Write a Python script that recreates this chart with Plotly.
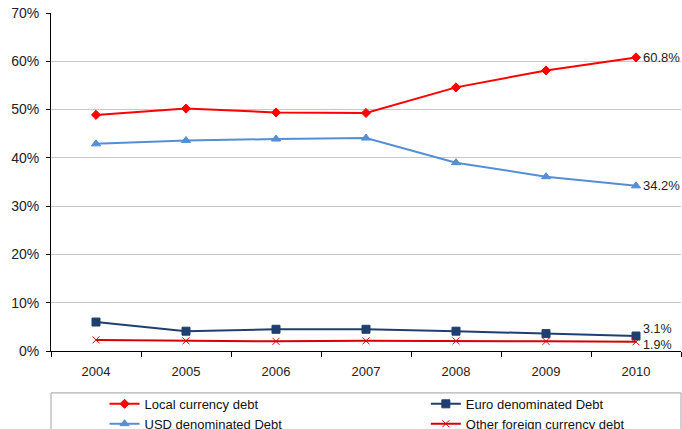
import plotly.graph_objects as go

years = ["2004", "2005", "2006", "2007", "2008", "2009", "2010"]
local_debt = [48.9, 50.2, 49.4, 49.3, 54.6, 58.1, 60.8]
usd_debt = [42.9, 43.6, 43.9, 44.1, 39.0, 36.1, 34.2]
euro_debt = [6.0, 4.1, 4.5, 4.5, 4.1, 3.6, 3.1]
other_debt = [2.3, 2.1, 2.0, 2.1, 2.1, 2.0, 1.9]
y_ticks = [0, 10, 20, 30, 40, 50, 60, 70]

FONT = "Liberation Sans, Arial, sans-serif"

fig = go.Figure()

series = [
    ("Local currency debt", local_debt, "#FF0000", "diamond", 7, "legend"),
    ("USD denominated Debt", usd_debt, "#558ED5", "triangle-up", 8, "legend"),
    ("Euro denominated Debt", euro_debt, "#1F3F6E", "square", 8, "legend2"),
    ("Other foreign currency debt", other_debt, "#D40000", "x-thin", 7, "legend2"),
]

for name, vals, color, symbol, size, leg in series:
    fig.add_trace(go.Scatter(
        x=years, y=vals, name=name, mode="lines+markers",
        line=dict(color=color, width=2),
        marker=dict(symbol=symbol, size=size, color=color,
                    line=dict(color=color, width=1)),
        legend=leg,
    ))

# End-of-series value labels (positioned at the last category index)
last = len(years) - 1
end_labels = [(local_debt, 0, 13), (usd_debt, 0, 13), (euro_debt, 7, 12.5), (other_debt, -3, 12.5)]
for vals, ys, fs in end_labels:
    fig.add_annotation(
        x=last, y=vals[-1], text=f"{vals[-1]:.1f}%",
        xref="x", yref="y", showarrow=False,
        xanchor="left", yanchor="middle", xshift=6, yshift=ys,
        font=dict(family=FONT, size=fs, color="#222222"),
        borderpad=0,
    )

# Legend frame
fig.add_shape(type="rect", xref="paper", yref="paper",
              x0=0, x1=1, y0=-0.124, y1=-0.5,
              line=dict(color="#A0A0A0", width=1), fillcolor="rgba(0,0,0,0)")

legend_common = dict(
    orientation="v", yanchor="top", y=-0.112, xanchor="left",
    font=dict(family=FONT, size=13, color="#111111"),
    bgcolor="rgba(0,0,0,0)", itemwidth=30, tracegroupgap=0,
    traceorder="normal",
)

fig.update_layout(
    width=682, height=429,
    margin=dict(l=51, r=1, t=13, b=78, autoexpand=False),
    paper_bgcolor="white", plot_bgcolor="white",
    font=dict(family=FONT, size=13, color="#222222"),
    showlegend=True,
    legend=dict(x=0.085, **legend_common),
    legend2=dict(x=0.595, **legend_common),
    xaxis=dict(
        type="category", range=[-0.5, 6.5],
        showline=True, linecolor="black", linewidth=1,
        ticks="outside", ticklen=5, tickcolor="black",
        tickson="boundaries", showgrid=False,
        tickfont=dict(family=FONT, size=13, color="#222222"),
        ticklabelstandoff=8,
    ),
    yaxis=dict(
        range=[0, 70], tickvals=y_ticks,
        ticktext=[f"{v}%" for v in y_ticks],
        showline=True, linecolor="black", linewidth=1,
        ticks="outside", ticklen=4, tickcolor="black",
        showgrid=True, gridcolor="#C8C8C8", gridwidth=1,
        zeroline=False, ticklabelstandoff=4,
        tickfont=dict(family=FONT, size=14, color="#222222"),
    ),
)

fig.write_html("out.html")
